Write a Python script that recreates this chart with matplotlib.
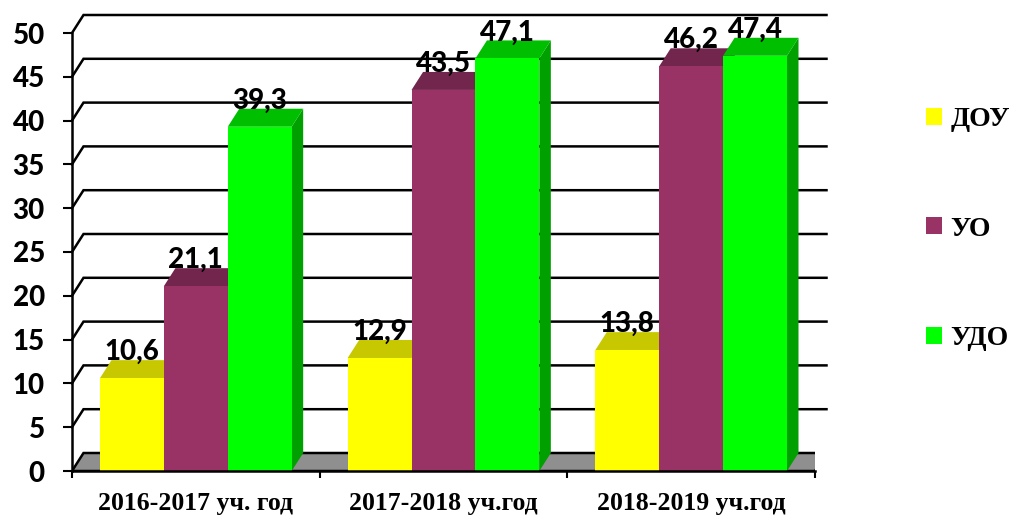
import numpy as np
import matplotlib.pyplot as plt
from matplotlib.patches import Polygon, Patch

# data
categories = ['2016-2017 уч. год', '2017-2018 уч.год', '2018-2019 уч.год']
series = ['ДОУ', 'УО', 'УДО']
dou = [10.6, 12.9, 13.8]
uo = [21.1, 43.5, 46.2]
udo = [39.3, 47.1, 47.4]
values = [dou, uo, udo]
yticks = list(range(0, 55, 5))

front = ['#FFFF00', '#993366', '#00FF00']
top = ['#C8C800', '#73264D', '#00BE00']
side = ['#A0A000', '#5C1F3D', '#00A000']

W, H, DPI = 1013, 517, 100
fig = plt.figure(figsize=(W / DPI, H / DPI), dpi=DPI)
# front plane of the pseudo-3D box, in pixels
L, R, B, T = 72, 815, 471, 33
ax = fig.add_axes([L / W, 1 - B / H, (R - L) / W, (B - T) / H])
ax.set_xlim(-0.5, 2.5)
ax.set_ylim(0, 50)

# depth offset of the back wall, pixels -> data units
DX_PX, DY_PX = 11.5, 18
dx = DX_PX / (R - L) * 3.0
dy = DY_PX / (B - T) * 50.0

# floor
ax.add_patch(Polygon([(-0.5, 0), (2.5, 0), (2.5 + dx, dy), (-0.5 + dx, dy)],
                     closed=True, fc='#8f8f8f', ec='black', lw=1.8, zorder=1))
# back-wall grid with the diagonal to the front axis
for v in yticks[1:]:
    ax.plot([-0.5, -0.5 + dx, 2.5 + dx], [v, v + dy, v + dy], color='black',
            lw=1.8, zorder=1, clip_on=False, solid_joinstyle='miter')

num_font = dict(fontsize=20, fontweight=900, family='Lato')

bw = 0.258
x = np.arange(len(categories))
for i in range(len(categories)):
    for j, vals in enumerate(values):
        x0 = x[i] + (j - 1) * bw - bw / 2
        x1 = x0 + bw
        v = vals[i]
        z = 3 + i * 3 + j
        ax.add_patch(Polygon([(x1, 0), (x1 + dx, dy), (x1 + dx, v + dy), (x1, v)],
                             closed=True, fc=side[j], ec='none', zorder=z, clip_on=False))
        ax.add_patch(Polygon([(x0, v), (x1, v), (x1 + dx, v + dy), (x0 + dx, v + dy)],
                             closed=True, fc=top[j], ec='none', zorder=z, clip_on=False))
        ax.bar(x0, v, width=bw, align='edge', color=front[j], zorder=z, clip_on=False)
        ax.text(x0 + bw / 2, v + dy, f'{v:.1f}'.replace('.', ','), ha='center',
                va='baseline', zorder=20, clip_on=False, **num_font)

# axes
for s in ['top', 'right']:
    ax.spines[s].set_visible(False)
ax.spines['left'].set_linewidth(1.8)
ax.spines['bottom'].set_linewidth(1.8)
ax.spines['bottom'].set_zorder(15)
ax.set_yticks(yticks)
ax.set_yticklabels([str(t) for t in yticks], **num_font)
ax.tick_params(axis='y', length=6.5, width=1.5, pad=13)
ax.set_xticks(x)
ax.set_xticklabels(categories, fontsize=18.5, fontweight='bold',
                   family='Liberation Serif')
ax.tick_params(axis='x', which='major', length=0, pad=15)
ax.set_xticks([-0.5, 0.5, 1.5, 2.5], minor=True)
ax.tick_params(axis='x', which='minor', length=5, width=1.5)

handles = [Patch(facecolor=c, edgecolor='none') for c in front]
leg = fig.legend(handles, series, loc='upper left', bbox_to_anchor=(926 / W, 1 - 107 / H),
                 frameon=False, prop={'family': 'Liberation Serif', 'weight': 'bold', 'size': 20},
                 handlelength=0.57, handleheight=0.57, handletextpad=0.3, labelspacing=3.05,
                 borderpad=0, borderaxespad=0)

fig.savefig('out.png', dpi=DPI)
